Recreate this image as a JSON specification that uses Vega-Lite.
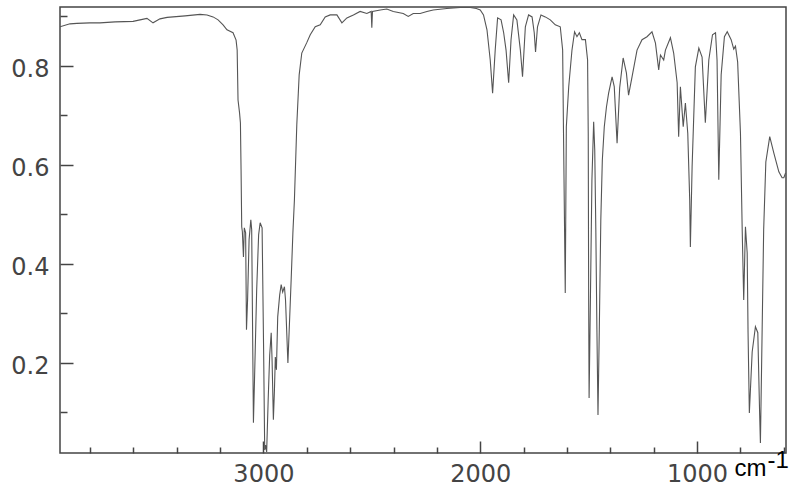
{
  "$schema": "https://vega.github.io/schema/vega-lite/v6.json",
  "width": 726,
  "height": 446,
  "autosize": {"type": "none"},
  "padding": {"left": 60, "top": 7, "right": 5, "bottom": 38},
  "background": "white",
  "config": {"view": {"stroke": "#444", "strokeWidth": 1.5}, "font": "DejaVu Sans"},
  "data": {"values": [
    {"wn":3938,"t":0.879},{"wn":3892,"t":0.885},{"wn":3860,"t":0.886},{"wn":3800,"t":0.887},{"wn":3754,"t":0.887},
    {"wn":3684,"t":0.889},{"wn":3601,"t":0.890},{"wn":3569,"t":0.893},{"wn":3537,"t":0.896},{"wn":3509,"t":0.887},
    {"wn":3477,"t":0.895},{"wn":3444,"t":0.898},{"wn":3361,"t":0.901},{"wn":3292,"t":0.904},{"wn":3260,"t":0.903},
    {"wn":3232,"t":0.899},{"wn":3209,"t":0.893},{"wn":3186,"t":0.883},{"wn":3168,"t":0.873},{"wn":3140,"t":0.867},
    {"wn":3126,"t":0.852},{"wn":3121,"t":0.832},{"wn":3117,"t":0.731},{"wn":3110,"t":0.705},{"wn":3106,"t":0.685},
    {"wn":3103,"t":0.590},{"wn":3100,"t":0.475},{"wn":3097,"t":0.465},{"wn":3092,"t":0.414},{"wn":3088,"t":0.473},
    {"wn":3082,"t":0.463},{"wn":3078,"t":0.267},{"wn":3073,"t":0.327},{"wn":3066,"t":0.449},{"wn":3058,"t":0.489},
    {"wn":3054,"t":0.469},{"wn":3046,"t":0.079},{"wn":3041,"t":0.166},{"wn":3031,"t":0.348},{"wn":3022,"t":0.459},
    {"wn":3015,"t":0.483},{"wn":3006,"t":0.473},{"wn":2999,"t":0.226},{"wn":2994,"t":0.024},{"wn":2990,"t":0.034},
    {"wn":2985,"t":0.020},{"wn":2978,"t":0.125},{"wn":2971,"t":0.216},{"wn":2964,"t":0.261},{"wn":2960,"t":0.206},
    {"wn":2954,"t":0.085},{"wn":2949,"t":0.146},{"wn":2945,"t":0.212},{"wn":2940,"t":0.186},{"wn":2934,"t":0.293},
    {"wn":2925,"t":0.337},{"wn":2918,"t":0.358},{"wn":2911,"t":0.343},{"wn":2903,"t":0.354},{"wn":2898,"t":0.327},
    {"wn":2887,"t":0.200},{"wn":2881,"t":0.267},{"wn":2872,"t":0.368},{"wn":2864,"t":0.463},{"wn":2857,"t":0.529},
    {"wn":2846,"t":0.681},{"wn":2835,"t":0.782},{"wn":2823,"t":0.826},{"wn":2800,"t":0.847},{"wn":2784,"t":0.863},
    {"wn":2761,"t":0.879},{"wn":2738,"t":0.883},{"wn":2715,"t":0.899},{"wn":2692,"t":0.903},{"wn":2661,"t":0.903},
    {"wn":2638,"t":0.887},{"wn":2615,"t":0.897},{"wn":2585,"t":0.903},{"wn":2554,"t":0.910},{"wn":2523,"t":0.906},
    {"wn":2503,"t":0.910},{"wn":2500,"t":0.877},{"wn":2497,"t":0.910},{"wn":2461,"t":0.913},{"wn":2431,"t":0.915},
    {"wn":2401,"t":0.910},{"wn":2355,"t":0.906},{"wn":2332,"t":0.900},{"wn":2309,"t":0.906},{"wn":2277,"t":0.906},
    {"wn":2246,"t":0.910},{"wn":2217,"t":0.913},{"wn":2154,"t":0.916},{"wn":2092,"t":0.918},{"wn":2046,"t":0.918},
    {"wn":2018,"t":0.916},{"wn":2000,"t":0.913},{"wn":1985,"t":0.903},{"wn":1969,"t":0.873},{"wn":1954,"t":0.812},
    {"wn":1943,"t":0.745},{"wn":1931,"t":0.832},{"wn":1920,"t":0.897},{"wn":1904,"t":0.893},{"wn":1892,"t":0.867},
    {"wn":1881,"t":0.832},{"wn":1869,"t":0.766},{"wn":1858,"t":0.853},{"wn":1846,"t":0.903},{"wn":1831,"t":0.893},
    {"wn":1815,"t":0.832},{"wn":1805,"t":0.778},{"wn":1792,"t":0.879},{"wn":1777,"t":0.903},{"wn":1761,"t":0.899},
    {"wn":1751,"t":0.867},{"wn":1745,"t":0.828},{"wn":1736,"t":0.879},{"wn":1720,"t":0.903},{"wn":1700,"t":0.899},
    {"wn":1677,"t":0.893},{"wn":1654,"t":0.883},{"wn":1631,"t":0.879},{"wn":1620,"t":0.832},{"wn":1616,"t":0.664},
    {"wn":1611,"t":0.463},{"wn":1608,"t":0.341},{"wn":1603,"t":0.677},{"wn":1592,"t":0.758},{"wn":1577,"t":0.832},
    {"wn":1565,"t":0.869},{"wn":1554,"t":0.859},{"wn":1543,"t":0.867},{"wn":1531,"t":0.853},{"wn":1515,"t":0.853},
    {"wn":1505,"t":0.812},{"wn":1502,"t":0.664},{"wn":1500,"t":0.327},{"wn":1498,"t":0.129},{"wn":1492,"t":0.327},
    {"wn":1485,"t":0.570},{"wn":1477,"t":0.687},{"wn":1472,"t":0.630},{"wn":1467,"t":0.469},{"wn":1462,"t":0.267},
    {"wn":1457,"t":0.095},{"wn":1451,"t":0.267},{"wn":1444,"t":0.489},{"wn":1437,"t":0.610},{"wn":1428,"t":0.677},
    {"wn":1418,"t":0.717},{"wn":1408,"t":0.745},{"wn":1392,"t":0.778},{"wn":1382,"t":0.758},{"wn":1369,"t":0.644},
    {"wn":1357,"t":0.756},{"wn":1341,"t":0.816},{"wn":1326,"t":0.786},{"wn":1316,"t":0.741},{"wn":1300,"t":0.778},
    {"wn":1277,"t":0.832},{"wn":1254,"t":0.853},{"wn":1231,"t":0.859},{"wn":1208,"t":0.869},{"wn":1192,"t":0.846},
    {"wn":1177,"t":0.792},{"wn":1169,"t":0.822},{"wn":1154,"t":0.812},{"wn":1146,"t":0.832},{"wn":1123,"t":0.857},
    {"wn":1108,"t":0.826},{"wn":1092,"t":0.766},{"wn":1085,"t":0.657},{"wn":1077,"t":0.758},{"wn":1064,"t":0.677},
    {"wn":1054,"t":0.725},{"wn":1043,"t":0.664},{"wn":1034,"t":0.529},{"wn":1031,"t":0.434},{"wn":1023,"t":0.596},
    {"wn":1008,"t":0.798},{"wn":992,"t":0.836},{"wn":977,"t":0.818},{"wn":962,"t":0.685},{"wn":946,"t":0.812},
    {"wn":929,"t":0.863},{"wn":915,"t":0.867},{"wn":908,"t":0.812},{"wn":900,"t":0.570},{"wn":889,"t":0.782},
    {"wn":874,"t":0.859},{"wn":861,"t":0.869},{"wn":843,"t":0.853},{"wn":831,"t":0.834},{"wn":823,"t":0.840},
    {"wn":813,"t":0.808},{"wn":800,"t":0.664},{"wn":792,"t":0.469},{"wn":785,"t":0.327},{"wn":777,"t":0.475},
    {"wn":769,"t":0.422},{"wn":765,"t":0.261},{"wn":759,"t":0.099},{"wn":746,"t":0.222},{"wn":731,"t":0.273},
    {"wn":720,"t":0.261},{"wn":712,"t":0.105},{"wn":708,"t":0.038},{"wn":700,"t":0.267},{"wn":693,"t":0.469},
    {"wn":683,"t":0.606},{"wn":665,"t":0.657},{"wn":646,"t":0.624},{"wn":623,"t":0.586},{"wn":608,"t":0.574},
    {"wn":600,"t":0.574},{"wn":592,"t":0.584}
  ]},
  "mark": {"type": "line", "color": "#555555", "strokeWidth": 1.1, "clip": true},
  "encoding": {
    "x": {
      "field": "wn", "type": "quantitative",
      "scale": {"domain": [590, 3938], "reverse": true, "nice": false, "zero": false},
      "axis": {
        "values": [600, 800, 1000, 1200, 1400, 1600, 1800, 2000, 2200, 2400, 2600, 2800, 3000, 3200, 3400, 3600, 3800],
        "format": "d",
        "labelExpr": "datum.value % 1000 === 0 ? datum.label : ''",
        "grid": false, "domain": false,
        "tickColor": "#444", "tickWidth": 1.5,
        "tickSize": {"condition": {"test": "datum.value % 1000 === 0", "value": -12}, "value": -6},
        "labelPadding": 21, "labelFontSize": 24, "labelColor": "#444", "labelFont": "DejaVu Sans",
        "labelFlush": false, "labelOverlap": false,
        "title": "cm", "titleFont": "Liberation Sans", "titleFontSize": 24, "titleFontWeight": "normal",
        "titleColor": "#000", "titleAlign": "left", "titleBaseline": "alphabetic", "titleX": 674, "titleY": 22
      }
    },
    "y": {
      "field": "t", "type": "quantitative",
      "scale": {"domain": [0.018, 0.919], "nice": false, "zero": false},
      "axis": {
        "values": [0.1, 0.2, 0.3, 0.4, 0.5, 0.6, 0.7, 0.8, 0.9],
        "format": ".1f",
        "labelExpr": "round(datum.value * 10) % 2 === 0 ? datum.label : ''",
        "grid": false, "domain": false,
        "tickColor": "#444", "tickWidth": 1.5,
        "tickSize": {"condition": {"test": "round(datum.value * 10) % 2 === 0", "value": -13}, "value": -7},
        "labelPadding": 24, "labelFontSize": 24, "labelColor": "#444", "labelFont": "DejaVu Sans",
        "labelOffset": 4, "labelFlush": false, "labelOverlap": false,
        "title": "-1", "titleFont": "Liberation Sans", "titleFontSize": 24, "titleFontWeight": "normal",
        "titleColor": "#000", "titleAngle": 0, "titleAlign": "left", "titleBaseline": "alphabetic",
        "titleX": 707, "titleY": 460
      }
    }
  }
}
